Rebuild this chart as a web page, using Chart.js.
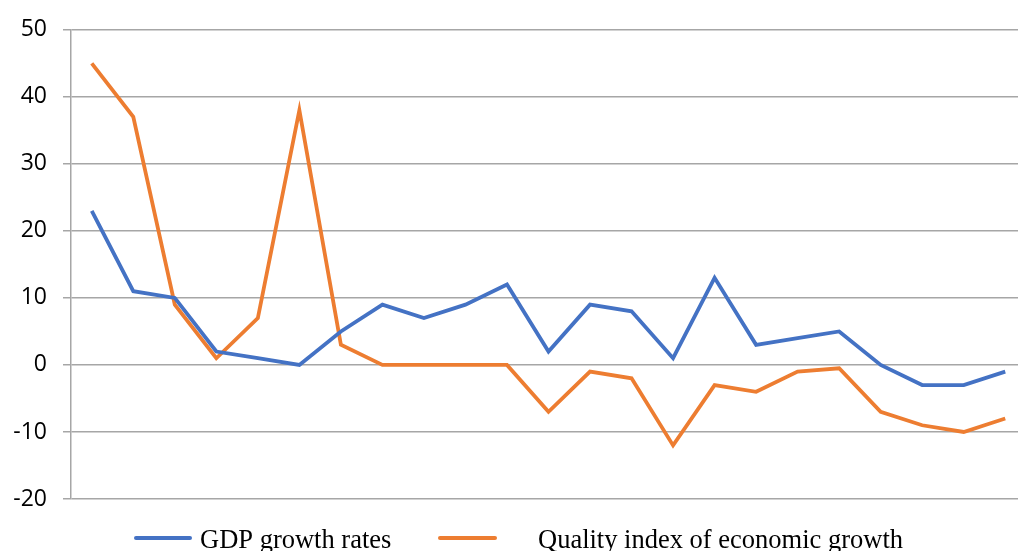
<!DOCTYPE html>
<html>
<head>
<meta charset="utf-8">
<script src="https://cdn.jsdelivr.net/npm/chart.js@4"></script>
<style>
  html, body { margin: 0; padding: 0; background: #fff; overflow: hidden; }
  #wrap { width: 1018px; height: 551px; overflow: hidden; }
</style>
</head>
<body>
<div id="wrap"><canvas id="growthChart" width="1030" height="551"></canvas></div>
<script>
// periods along the x axis (not labelled in the picture)
const periods = ['1', '2', '3', '4', '5', '6', '7', '8', '9', '10', '11', '12',
                 '13', '14', '15', '16', '17', '18', '19', '20', '21', '22', '23'];

const gdpGrowth = [23, 11, 10, 2, 1, 0, 5, 9, 7, 9, 12, 2, 9, 8, 1, 13, 3, 4, 5, 0, -3, -3, -1];
const qualityIndex = [45, 37, 9, 1, 7, 38, 3, 0, 0, 0, 0, -7, -1, -2, -12, -3, -4, -1, -0.5, -7, -9, -10, -8];

const yTicks = [-20, -10, 0, 10, 20, 30, 40, 50];

const gridGray = '#a6a6a6';

// legend drawn under the plot, spaced like the original figure
const bottomLegend = {
    id: 'bottomLegend',
    afterDraw(chart) {
        const c = chart.ctx;
        const items = [
            { x0: 136, x1: 190, tx: 200 },
            { x0: 440, x1: 495, tx: 538 }
        ];
        c.save();
        c.font = '26.5px "Liberation Serif", "Times New Roman", serif';
        c.fillStyle = '#000';
        c.textBaseline = 'alphabetic';
        chart.data.datasets.forEach((ds, i) => {
            const it = items[i];
            c.strokeStyle = ds.borderColor;
            c.lineWidth = 4;
            c.lineCap = 'round';
            c.beginPath();
            c.moveTo(it.x0, 538);
            c.lineTo(it.x1, 538);
            c.stroke();
            c.fillText(ds.label, it.tx, 548);
        });
        c.restore();
    }
};

const ctx = document.getElementById('growthChart').getContext('2d');
const growthChart = new Chart(ctx, {
    type: 'line',
    data: {
        labels: periods,
        datasets: [{
            label: 'GDP growth rates',
            data: gdpGrowth,
            borderColor: '#4472C4',
            borderWidth: 3.8,
            pointRadius: 0,
            tension: 0,
            fill: false
        }, {
            label: 'Quality index of economic growth',
            data: qualityIndex,
            borderColor: '#ED7D31',
            borderWidth: 3.8,
            pointRadius: 0,
            tension: 0,
            fill: false
        }]
    },
    options: {
        responsive: false,
        animation: false,
        layout: { padding: { left: 0, top: 27, right: 4, bottom: 52 } },
        plugins: {
            legend: { display: false },
            tooltip: { enabled: false }
        },
        scales: {
            x: {
                display: false,
                offset: true
            },
            y: {
                min: -20,
                max: 50,
                afterBuildTicks: (scale) => { scale.ticks = yTicks.map(v => ({ value: v })); },
                afterFit: (scale) => { scale.width = 71; },
                grid: { color: gridGray, lineWidth: 1.5, tickLength: 8 },
                border: { color: gridGray, width: 1.5 },
                ticks: {
                    padding: 16,
                    color: '#000',
                    font: { family: '"Open Sans", "Noto Sans", sans-serif', size: 23 }
                }
            }
        }
    },
    plugins: [bottomLegend]
});
</script>
</body>
</html>
